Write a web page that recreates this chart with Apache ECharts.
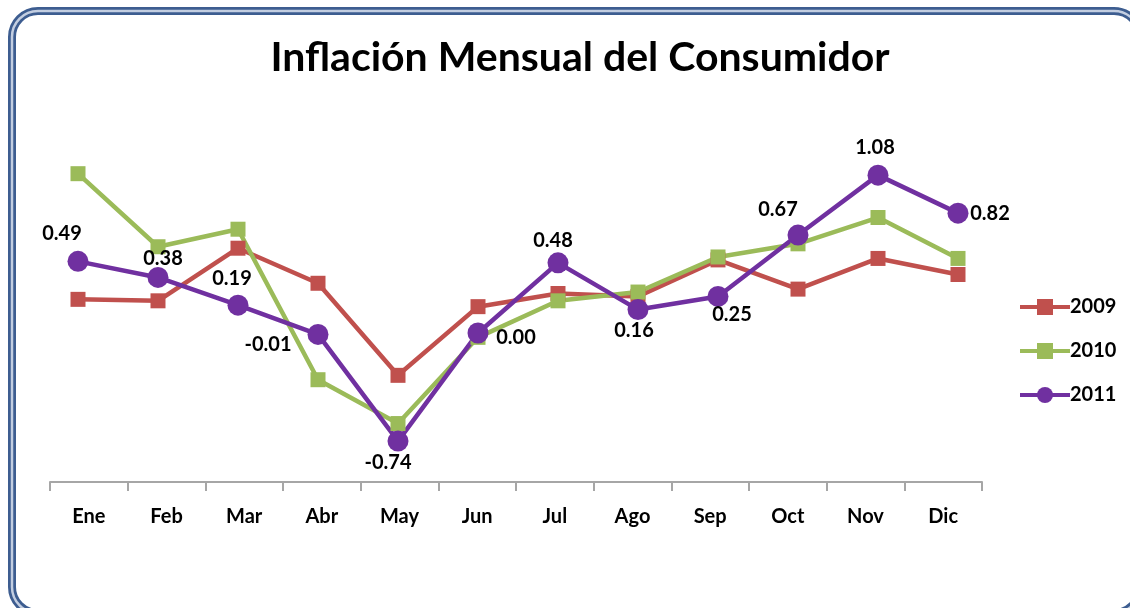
<!DOCTYPE html>
<html>
<head>
<meta charset="utf-8">
<script src="https://cdn.jsdelivr.net/npm/echarts@6/dist/echarts.min.js"></script>
<style>
html,body{margin:0;padding:0;background:#fff;}
#chart{width:1130px;height:608px;}
</style>
</head>
<body>
<div id="chart"></div>
<script>
const months = ['Ene','Feb','Mar','Abr','May','Jun','Jul','Ago','Sep','Oct','Nov','Dic'];
const seriesNames = ['2009','2010','2011'];
const inf2009 = [0.23,0.22,0.58,0.34,-0.29,0.18,0.27,0.25,0.50,0.30,0.51,0.40];
const inf2010 = [1.09,0.59,0.71,-0.32,-0.62,-0.03,0.22,0.28,0.52,0.61,0.79,0.51];
const inf2011 = [0.49,0.38,0.19,-0.01,-0.74,0.00,0.48,0.16,0.25,0.67,1.08,0.82];
const labelOffsets = [[-16,-28],[5,-19],[-6,-27],[-50,10],[-10,21],[38,5],[-5,-22],[-4,21],[14,18],[-20,-26],[-3,-28],[32,0]];

const FONT = 'Lato';
const chart = echarts.init(document.getElementById('chart'), null, {renderer:'canvas'});
const yMin = -1.02, yMax = 1.3;
const gridTop = 143, gridBottom = 126;

chart.setOption({
  backgroundColor: '#ffffff',
  animation: false,
  title: {
    text: 'Inflación Mensual del Consumidor',
    left: 575, top: 32, textAlign: 'center',
    textStyle: {fontFamily: FONT, fontWeight: 'bold', fontSize: 41, color: '#000'}
  },
  graphic: [
    {type:'rect', silent:true, z:-10, shape:{x:12, y:11, width:1128, height:602, r:26},
     style:{fill:'none', stroke:'#3d5d90', lineWidth:8}},
    {type:'rect', silent:true, z:-9, shape:{x:12, y:11, width:1128, height:602, r:26},
     style:{fill:'none', stroke:'#c3cee1', lineWidth:2.5}}
  ],
  legend: {
    orient: 'vertical', left: 1013, top: 292,
    itemWidth: 50, itemHeight: 20, itemGap: 24,
    lineStyle: {width: 4},
    data: seriesNames,
    textStyle: {fontFamily: FONT, fontWeight: 'bold', fontSize: 20, color: '#000', padding:[0,0,0,-5]}
  },
  grid: [
    {left: 50, right: 148, top: gridTop, bottom: gridBottom},
    {left: 38, right: 132, top: gridTop, bottom: gridBottom}
  ],
  xAxis: [
    {type:'category', gridIndex:0, data: months, boundaryGap:true,
     axisLine:{show:true, onZero:false, lineStyle:{color:'#a6a6a6', width:2}},
     axisTick:{show:true, length:9, lineStyle:{color:'#a6a6a6', width:2}},
     axisLabel:{interval:0, margin:25, fontFamily: FONT, fontWeight:'bold', fontSize:20, color:'#000'},
     splitLine:{show:false}},
    {type:'category', gridIndex:1, data: months, boundaryGap:true, show:false}
  ],
  yAxis: [
    {type:'value', gridIndex:0, min:yMin, max:yMax, show:false, splitLine:{show:false}},
    {type:'value', gridIndex:1, min:yMin, max:yMax, show:false, splitLine:{show:false}}
  ],
  series: [
    {name:'2009', type:'line', xAxisIndex:1, yAxisIndex:1, data: inf2009,
     symbol:'rect', symbolSize:15, color:'#C0504D',
     lineStyle:{width:4.5, color:'#C0504D'}, itemStyle:{color:'#C0504D'}},
    {name:'2010', type:'line', xAxisIndex:1, yAxisIndex:1, data: inf2010,
     symbol:'rect', symbolSize:15, color:'#9BBB59',
     lineStyle:{width:4.5, color:'#9BBB59'}, itemStyle:{color:'#9BBB59'}},
    {name:'2011', type:'line', xAxisIndex:1, yAxisIndex:1,
     data: inf2011.map((v,i)=>({value:v, label:{offset: labelOffsets[i]}})),
     symbol:'circle', symbolSize:21, color:'#7030A0',
     lineStyle:{width:4.5, color:'#7030A0'}, itemStyle:{color:'#7030A0'},
     label:{show:true, position:'inside', fontFamily: FONT, fontWeight:'bold', fontSize:20, color:'#000',
       formatter: p => Number(p.value).toFixed(2)}}
  ]
});
</script>
</body>
</html>
